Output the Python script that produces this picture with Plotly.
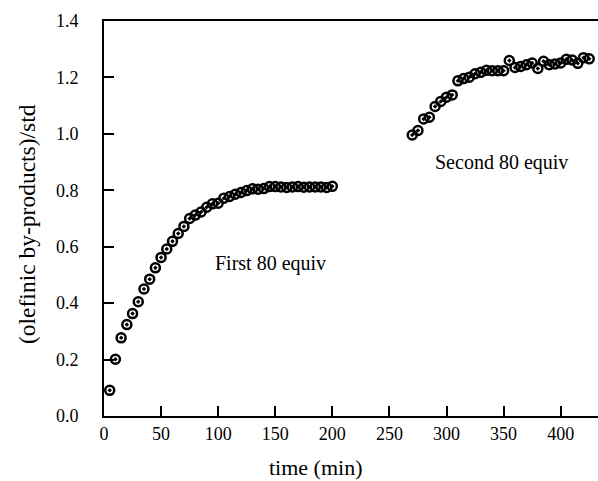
import plotly.graph_objects as go

# First 80 equiv addition: time (min) and ratio to internal standard
t_first = [5, 10, 15, 20, 25, 30, 35, 40, 45, 50, 55, 60, 65, 70, 75, 80, 85, 90, 95, 100,
           105, 110, 115, 120, 125, 130, 135, 140, 145, 150, 155, 160, 165, 170, 175, 180,
           185, 190, 195, 200]
y_first = [0.091, 0.201, 0.277, 0.324, 0.363, 0.405, 0.450, 0.485, 0.525, 0.562,
           0.592, 0.619, 0.647, 0.672, 0.700, 0.712, 0.723, 0.740, 0.752, 0.754,
           0.772, 0.778, 0.786, 0.792, 0.799, 0.805, 0.804, 0.806, 0.813, 0.813,
           0.812, 0.810, 0.812, 0.813, 0.811, 0.812, 0.812, 0.812, 0.810, 0.814]

# Second 80 equiv addition
t_second = [270, 275, 280, 285, 290, 295, 300, 305, 310, 315, 320, 325, 330, 335, 340, 345,
            350, 355, 360, 365, 370, 375, 380, 385, 390, 395, 400, 405, 410, 415, 420, 425]
y_second = [0.996, 1.012, 1.053, 1.059, 1.097, 1.115, 1.130, 1.138, 1.188, 1.196,
            1.201, 1.213, 1.218, 1.225, 1.224, 1.224, 1.224, 1.260, 1.235, 1.239,
            1.245, 1.251, 1.232, 1.257, 1.245, 1.248, 1.251, 1.264, 1.262, 1.250,
            1.270, 1.266]

x_ticks = [0, 50, 100, 150, 200, 250, 300, 350, 400]
y_ticks = [0.0, 0.2, 0.4, 0.6, 0.8, 1.0, 1.2, 1.4]

serif = "Liberation Serif, Times New Roman, serif"
marker = dict(symbol="circle-open-dot", size=9, color="black", line=dict(width=2.5, color="black"))

fig = go.Figure()
fig.add_trace(go.Scatter(x=t_first, y=y_first, mode="markers", marker=marker, showlegend=False))
fig.add_trace(go.Scatter(x=t_second, y=y_second, mode="markers", marker=marker, showlegend=False))

fig.add_annotation(x=146, y=0.542, text="First 80 equiv", showarrow=False,
                   font=dict(family=serif, size=20, color="black"))
fig.add_annotation(x=348.5, y=0.90, text="Second 80 equiv", showarrow=False,
                   font=dict(family=serif, size=20, color="black"))

# axis titles placed in page pixels
fig.add_annotation(xref="paper", yref="paper", x=(315 - 104) / 494, y=(416 - 467) / 395,
                   text="time (min)", showarrow=False, xanchor="center", yanchor="middle",
                   font=dict(family=serif, size=22, color="black"))
fig.add_annotation(xref="paper", yref="paper", x=(27 - 104) / 494, y=(416 - 224) / 395,
                   text="(olefinic by-products)/std", showarrow=False, textangle=-90,
                   xanchor="center", yanchor="middle",
                   font=dict(family=serif, size=23.5, color="black"))

fig.update_layout(
    width=598, height=481,
    margin=dict(l=104, r=0, t=21, b=65),
    paper_bgcolor="white", plot_bgcolor="white",
    font=dict(family=serif, size=18, color="black"),
    xaxis=dict(
        range=[0, 432.7], tickvals=x_ticks, ticktext=[str(v) for v in x_ticks],
        ticks="inside", ticklen=10, tickwidth=1.5, tickcolor="black",
        showline=True, linecolor="black", linewidth=2, mirror=True,
        showgrid=False, zeroline=False,
        tickfont=dict(family=serif, size=18),
    ),
    yaxis=dict(
        range=[0, 1.4], tickvals=y_ticks, ticktext=[f"{v:.1f}" for v in y_ticks],
        ticks="inside", ticklen=10, tickwidth=1.5, tickcolor="black",
        showline=True, linecolor="black", linewidth=2, mirror=False,
        showgrid=False, zeroline=False, ticklabelstandoff=20,
        tickfont=dict(family=serif, size=18),
    ),
)

fig.write_html("out.html")
